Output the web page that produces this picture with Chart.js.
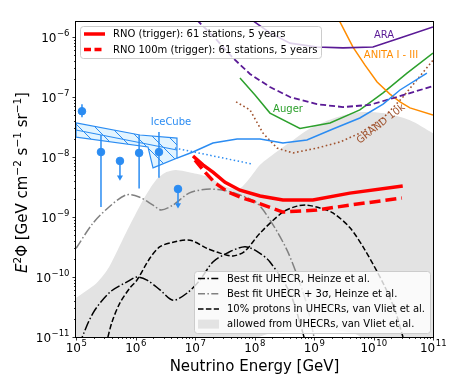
<!DOCTYPE html>
<html>
<head>
<meta charset="utf-8">
<script src="https://cdn.jsdelivr.net/npm/chart.js@4/dist/chart.umd.min.js"></script>
<style>body{margin:0;background:#fff}</style>
</head>
<body>
<canvas id="c" width="457" height="392"></canvas>
<script>
// ==== Data (energy in GeV, E^2 flux in GeV cm^-2 s^-1 sr^-1) ====
var xTicks = [1e5, 1e6, 1e7, 1e8, 1e9, 1e10, 1e11]
var xTickExp = ['5', '6', '7', '8', '9', '10', '11']
var yTicks = [1e-11, 1e-10, 1e-9, 1e-8, 1e-7, 1e-6]
var yTickExp = ['\u221211', '\u221210', '\u22129', '\u22128', '\u22127', '\u22126']

// RNO
var eRno = [9.25e6, 1.36e7, 2.0e7, 3.2e7, 5.7e7, 1.24e8, 3.0e8, 9.6e8, 4.0e9, 3.1e10]
var fRno = [1.04e-8, 7.4e-9, 5.6e-9, 3.8e-9, 2.8e-9, 2.24e-9, 1.92e-9, 1.92e-9, 2.5e-9, 3.3e-9]
var eRno100 = [1e7, 1.47e7, 2.17e7, 3.6e7, 5.7e7, 1.02e8, 3.0e8, 1.12e9, 4.0e9, 3.0e10]
var fRno100 = [8.9e-9, 5.6e-9, 3.7e-9, 2.6e-9, 2.15e-9, 1.78e-9, 1.21e-9, 1.31e-9, 1.58e-9, 2.07e-9]

// other experiments
var eAra = [6.9e7, 1.82e8, 3.95e8, 1.12e9, 3.07e9, 9.8e9, 2.79e10, 1e11]
var fAra = [2.33e-6, 1.17e-6, 7.9e-7, 6.8e-7, 6.6e-7, 6.8e-7, 9.6e-7, 1.47e-6]
var eAraProj = [1.08e7, 2.17e7, 4.36e7, 8.4e7, 1.82e8, 3.95e8, 1.12e9, 3.07e9, 8.7e9, 2.48e10, 1e11]
var fAraProj = [1.92e-6, 9.6e-7, 4.47e-7, 2.42e-7, 1.47e-7, 1e-7, 7.6e-8, 6.8e-8, 7.4e-8, 1e-7, 1.52e-7]
var eAnita = [2.53e9, 4.52e9, 7.2e9, 1.15e10, 1.89e10, 2.79e10, 4.1e10, 1e11]
var fAnita = [2.07e-6, 6.8e-7, 3.4e-7, 1.78e-7, 1.12e-7, 8.3e-8, 6.6e-8, 5.0e-8]
var eAuger = [5.7e7, 1.02e8, 1.82e8, 5.8e8, 1.86e9, 5.9e9, 1.45e10, 3.66e10, 1e11]
var fAuger = [2.07e-7, 1.08e-7, 5.4e-8, 3.0e-8, 3.7e-8, 6.1e-8, 1.17e-7, 2.5e-7, 5.4e-7]
var eGrand = [4.9e7, 8.4e7, 1.39e8, 2.39e8, 4.44e8, 1.12e9, 2.74e9, 5.9e9, 1.45e10, 3.13e10, 1e11]
var fGrand = [8.3e-8, 6.1e-8, 2.5e-8, 1.41e-8, 1.17e-8, 1.41e-8, 1.78e-8, 2.5e-8, 4.47e-8, 1e-7, 4.1e-7]

// IceCube
var eIce = [4.98e6, 9.25e6, 2.0e7, 5.1e7, 1.24e8, 3.0e8, 7.6e8, 2.08e9, 5.9e9, 1.45e10, 2.79e10, 7.9e10]
var fIce = [9.6e-9, 1.21e-8, 1.71e-8, 2.0e-8, 2.0e-8, 1.71e-8, 1.92e-8, 2.93e-8, 4.47e-8, 7.6e-8, 1.31e-7, 2.5e-7]
var eIceExt = [4.6e6, 9.4e7]
var fIceExt = [1.41e-8, 7.6e-9]
var eIceBand = [1e5, 1.19e6, 4.98e6, 4.98e6, 1.97e6, 1.62e6, 1e5, 1e5]
var fIceBand = [3.7e-8, 2.33e-8, 2.07e-8, 9.6e-9, 6.6e-9, 1.47e-8, 2.15e-8, 3.7e-8]
var eIceMid = [1e5, 4.98e6]
var fIceMid = [2.82e-8, 1.31e-8]
var eIcePts = [1.26e5, 2.63e5, 1.15e6, 2.48e6]
var fIcePts = [5.8e-8, 1.21e-8, 1.17e-8, 1.21e-8]
var fIceLo = [4.6e-8, 1.47e-9, 3.0e-9, 4.5e-9]
var fIceHi = [7.6e-8, 2.33e-8, 2.33e-8, 2.6e-8]
var eIceUL = [5.48e5, 5.18e6]
var fIceUL = [8.6e-9, 2.93e-9]
var fIceULtip = [4.6e-9, 1.58e-9]

// UHECR models
var eBest = [1.12e5, 1.93e5, 3.72e5, 7.2e5, 1.06e6, 1.56e6, 2.58e6, 4.27e6, 7.35e6, 1.21e7, 2.0e7, 3.45e7, 6.9e7, 1.15e8, 1.82e8, 3.95e8, 6.5e8, 7.3e8]
var fBest = [7.4e-12, 2.5e-11, 5.6e-11, 8.3e-11, 1.0e-10, 8.9e-11, 6.1e-11, 4.1e-11, 5.4e-11, 8.9e-11, 1.78e-10, 2.5e-10, 3.2e-10, 2.6e-10, 1.78e-10, 5.4e-11, 1.17e-11, 7.4e-12]
var eBest3 = [1e5, 1.93e5, 3.59e5, 6.92e5, 1.15e6, 1.97e6, 2.69e6, 4.27e6, 7.92e6, 1.53e7, 2.96e7, 5.7e7, 1.1e8, 2.05e8, 3.52e8, 5.18e8, 7.62e8, 1e9, 1.08e9]
var fBest3 = [3.0e-10, 7.9e-10, 1.47e-9, 2.33e-9, 2.15e-9, 1.58e-9, 1.31e-9, 1.58e-9, 2.5e-9, 2.9e-9, 2.8e-9, 2.33e-9, 1.71e-9, 7.4e-10, 2.8e-10, 1.08e-10, 3.4e-11, 1e-11, 7.4e-12]
var eProt = [3.19e5, 4.03e5, 5.48e5, 8.09e5, 1.06e6, 1.75e6, 2.58e6, 4.27e6, 8.24e6, 1.59e7, 2.63e7, 4.36e7, 6.9e7, 1.24e8, 3.01e8, 5.18e8, 7.62e8, 1.26e9, 2.08e9, 4.03e9, 7.2e9, 1.45e10, 2.3e10, 3.13e10, 3.5e10]
var fProt = [7.4e-12, 1.78e-11, 3.7e-11, 6.6e-11, 8.9e-11, 2.07e-10, 3.2e-10, 3.8e-10, 4.1e-10, 3.0e-10, 2.5e-10, 2.24e-10, 2.7e-10, 5.4e-10, 1.21e-9, 1.52e-9, 1.58e-9, 1.41e-9, 1.17e-9, 6.6e-10, 2.8e-10, 7.9e-11, 2.8e-11, 1e-11, 7.4e-12]
var eAllowedTop = [7e4, 1e5, 2.2e5, 3.6e5, 6.9e5, 1.34e6, 2.2e6, 3.3e6, 4.8e6, 9.2e6, 1.7e7, 3.6e7, 5.7e7, 8.4e7, 1.24e8, 1.8e8, 4e8, 8.6e8, 2.4e9, 5.9e9, 1.45e10, 4.1e10, 1e11, 1.5e11]
var fAllowedTop = [3.5e-11, 4.5e-11, 7.9e-11, 1.47e-10, 5.4e-10, 1.92e-9, 4.1e-9, 5.6e-9, 6.1e-9, 5.4e-9, 4.6e-9, 3.1e-9, 3.0e-9, 4.5e-9, 7.4e-9, 1e-8, 1.78e-8, 3.0e-8, 4.6e-8, 5.6e-8, 5.4e-8, 4.1e-8, 2.5e-8, 2.1e-8]
var eAllowedLow = [1.5e11, 1.6e10, 6e9, 2.4e9, 8.6e8, 4e8, 1.8e8, 1.2e8, 7e4]
var fAllowedLow = [1e-12, 1e-12, 1e-11, 1.3e-11, 1.36e-11, 1.3e-11, 1.15e-11, 1e-11, 1e-12]

// ==== Helpers ====
function pts(xs, ys) {
    return xs.map(function(x, i) { return {x: x, y: ys[i]} })
}
function line(label, xs, ys, color, width, dash, extra) {
    return Object.assign({
        label: label,
        data: pts(xs, ys),
        borderColor: color,
        borderWidth: width,
        borderDash: dash || [],
        pointRadius: 0,
        fill: false,
        tension: 0
    }, extra || {})
}

var BLUE = '#2b8cf2'
var RED = '#ff0000'
var PURPLE = '#5a1a96'
var ORANGE = '#ff8c00'
var GREEN = '#2ca02c'
var BROWN = '#a0522d'

// hatch for the IceCube band
var hatch = (function() {
    var c = document.createElement('canvas')
    c.width = 16; c.height = 16
    var g = c.getContext('2d')
    g.fillStyle = '#e2f4ff'
    g.fillRect(0, 0, 16, 16)
    g.strokeStyle = BLUE
    g.lineWidth = 1
    g.beginPath()
    g.moveTo(0, 0); g.lineTo(16, 16)
    g.moveTo(-8, 8); g.lineTo(8, 24)
    g.moveTo(8, -8); g.lineTo(24, 8)
    g.stroke()
    return g.createPattern(c, 'repeat')
})()

var datasets = []
// red curves on top
datasets.push(line('RNO (trigger): 61 stations, 5 years', eRno, fRno, RED, 3.5))
datasets.push(line('RNO 100m (trigger): 61 stations, 5 years', eRno100, fRno100, RED, 3.5, [11, 5]))
// IceCube
for (var i = 0; i < eIcePts.length; i++) {
    datasets.push(line('', [eIcePts[i], eIcePts[i]], [fIceLo[i], fIceHi[i]], BLUE, 1.5))
}
for (var j = 0; j < eIceUL.length; j++) {
    datasets.push(line('', [eIceUL[j], eIceUL[j]], [fIceUL[j], fIceULtip[j]], BLUE, 1.5, [], {
        pointRadius: [0, 3.5], pointStyle: 'triangle', rotation: 180,
        pointBackgroundColor: BLUE, pointBorderColor: BLUE, pointBorderWidth: 0
    }))
}
datasets.push({
    label: '', data: pts(eIcePts.concat(eIceUL), fIcePts.concat(fIceUL)), showLine: false,
    pointRadius: 3.8, pointBackgroundColor: BLUE, pointBorderColor: BLUE, borderColor: BLUE
})
datasets.push(line('', eIce, fIce, BLUE, 1.5))
datasets.push(line('', eIceExt, fIceExt, BLUE, 1.5, [1.5, 2.5]))
datasets.push(line('', eIceMid, fIceMid, BLUE, 1.2))
datasets.push(line('', eIceBand, fIceBand, BLUE, 1.2, [], {fill: 'shape', backgroundColor: hatch}))
// other experiments
datasets.push(line('', eAra, fAra, PURPLE, 1.6))
datasets.push(line('', eAraProj, fAraProj, PURPLE, 1.8, [6, 3]))
datasets.push(line('', eAnita, fAnita, ORANGE, 1.5))
datasets.push(line('', eAuger, fAuger, GREEN, 1.5))
datasets.push(line('', eGrand, fGrand, BROWN, 1.6, [1.6, 2.6]))
// UHECR models
datasets.push(line('Best fit UHECR, Heinze et al.', eBest, fBest, '#000', 1.5, [9.6, 2.4, 1.5, 2.4], {tension: 0.3}))
datasets.push(line('Best fit UHECR + 3\u03c3, Heinze et al.', eBest3, fBest3, '#808080', 1.5, [9.6, 2.4, 1.5, 2.4], {tension: 0.3}))
datasets.push(line('10% protons in UHECRs, van Vliet et al.', eProt, fProt, '#000', 1.5, [5.5, 2.4], {tension: 0.3}))
datasets.push(line('allowed from UHECRs, van Vliet et al.',
    eAllowedTop.concat(eAllowedLow), fAllowedTop.concat(fAllowedLow), '#e3e3e3', 0, [],
    {fill: 'shape', backgroundColor: '#e3e3e3', tension: 0.25}))

var legendTop = [
    {text: 'RNO (trigger): 61 stations, 5 years', color: RED, width: 3.5, dash: []},
    {text: 'RNO 100m (trigger): 61 stations, 5 years', color: RED, width: 3.5, dash: [7, 3.5]}
]
var legendBottom = [
    {text: 'Best fit UHECR, Heinze et al.', color: '#000', width: 1.5, dash: [7, 2.4, 1.5, 2.4]},
    {text: 'Best fit UHECR + 3\u03c3, Heinze et al.', color: '#808080', width: 1.5, dash: [7, 2.4, 1.5, 2.4]},
    {text: '10% protons in UHECRs, van Vliet et al.', color: '#000', width: 1.5, dash: [5.5, 2.4]},
    {text: 'allowed from UHECRs, van Vliet et al.', patch: '#e3e3e3'}
]

var FONT = '"DejaVu Sans", sans-serif'

function drawLegend(ctx, items, x0, y0, w, h, rowH, top) {
    ctx.save()
    ctx.fillStyle = 'rgba(255,255,255,0.8)'
    ctx.strokeStyle = '#cccccc'
    ctx.lineWidth = 1
    ctx.beginPath()
    ctx.roundRect(x0 + 0.5, y0 + 0.5, w, h, 3)
    ctx.fill(); ctx.stroke()
    ctx.font = '10px ' + FONT
    ctx.textAlign = 'left'
    ctx.textBaseline = 'middle'
    items.forEach(function(it, k) {
        var y = y0 + top + k * rowH
        if (it.patch) {
            ctx.fillStyle = it.patch
            ctx.fillRect(x0 + 4, y - 4.5, 21, 9)
        } else {
            ctx.strokeStyle = it.color
            ctx.lineWidth = it.width
            ctx.setLineDash(it.dash)
            ctx.beginPath()
            ctx.moveTo(x0 + 4, y); ctx.lineTo(x0 + 25, y)
            ctx.stroke()
            ctx.setLineDash([])
        }
        ctx.fillStyle = '#000'
        ctx.fillText(it.text, x0 + 33, y + 0.5)
    })
    ctx.restore()
}

function powLabel(ctx, exp, x, y, align) {
    ctx.font = '12px ' + FONT
    var w1 = ctx.measureText('10').width
    ctx.font = '8.5px ' + FONT
    var w2 = ctx.measureText(exp).width
    var left = align === 'right' ? x - w1 - w2 : x - (w1 + w2) / 2
    ctx.textBaseline = 'alphabetic'
    ctx.textAlign = 'left'
    ctx.font = '12px ' + FONT
    ctx.fillText('10', left, y + 4.5)
    ctx.font = '8.5px ' + FONT
    ctx.fillText(exp, left + w1 + 0.5, y - 1.5)
}

var deco = {
    id: 'deco',
    afterDatasetsDraw: function(chart) {
        var ctx = chart.ctx, a = chart.chartArea
        var sx = chart.scales.x, sy = chart.scales.y
        ctx.save()
        // curve labels
        ctx.textAlign = 'center'
        ctx.textBaseline = 'middle'
        ctx.font = '10px ' + FONT
        ctx.fillStyle = BLUE; ctx.fillText('IceCube', 171, 122)
        ctx.fillStyle = PURPLE; ctx.fillText('ARA', 384, 35)
        ctx.fillStyle = ORANGE; ctx.fillText('ANITA I - III', 391, 55)
        ctx.fillStyle = GREEN; ctx.fillText('Auger', 288, 109)
        ctx.save()
        ctx.translate(381, 124)
        ctx.rotate(-38 * Math.PI / 180)
        ctx.fillStyle = BROWN; ctx.fillText('GRAND 10k', 0, 0)
        ctx.restore()
        // legends
        drawLegend(ctx, legendTop, 80, 26, 241, 32, 15.5, 8)
        drawLegend(ctx, legendBottom, 194, 271, 236, 62, 15.2, 7.5)
        // frame
        ctx.strokeStyle = '#000'
        ctx.lineWidth = 1
        ctx.strokeRect(a.left - 0.5, a.top - 0.5, a.right - a.left + 1, a.bottom - a.top + 1)
        // ticks
        ctx.lineWidth = 0.8
        ctx.beginPath()
        xTicks.forEach(function(t) {
            for (var m = 1; m < 10; m++) {
                var v = t * m
                if (v > 1e11 * 1.0001) break
                var px = Math.round(sx.getPixelForValue(v)) + 0.5
                ctx.moveTo(px, a.bottom); ctx.lineTo(px, a.bottom + (m === 1 ? 3.5 : 2))
            }
        })
        yTicks.forEach(function(t) {
            for (var m = 1; m < 10; m++) {
                var v = t * m
                if (v > sy.max) break
                var py = Math.round(sy.getPixelForValue(v)) + 0.5
                ctx.moveTo(a.left, py); ctx.lineTo(a.left - (m === 1 ? 3.5 : 2), py)
            }
        })
        ctx.stroke()
        // tick labels
        ctx.fillStyle = '#000'
        xTicks.forEach(function(t, k) {
            powLabel(ctx, xTickExp[k], sx.getPixelForValue(t), 347, 'center')
        })
        yTicks.forEach(function(t, k) {
            powLabel(ctx, yTickExp[k], 69, sy.getPixelForValue(t), 'right')
        })
        // axis titles
        ctx.font = '15px ' + FONT
        ctx.textAlign = 'center'
        ctx.textBaseline = 'alphabetic'
        ctx.fillText('Neutrino Energy [GeV]', (a.left + a.right) / 2, 371)
        var parts = [
            {t: 'E', f: 'italic 15px ' + FONT, dy: 0},
            {t: '2', f: '10.5px ' + FONT, dy: -6},
            {t: '\u03a6 [GeV cm', f: '15px ' + FONT, dy: 0},
            {t: '\u22122', f: '10.5px ' + FONT, dy: -6},
            {t: ' s', f: '15px ' + FONT, dy: 0},
            {t: '\u22121', f: '10.5px ' + FONT, dy: -6},
            {t: ' sr', f: '15px ' + FONT, dy: 0},
            {t: '\u22121', f: '10.5px ' + FONT, dy: -6},
            {t: ']', f: '15px ' + FONT, dy: 0}
        ]
        var total = 0
        parts.forEach(function(p) { ctx.font = p.f; p.w = ctx.measureText(p.t).width; total += p.w })
        ctx.translate(27, (a.top + a.bottom) / 2 + 3)
        ctx.rotate(-Math.PI / 2)
        ctx.textAlign = 'left'
        var cx = -total / 2
        parts.forEach(function(p) { ctx.font = p.f; ctx.fillText(p.t, cx, p.dy); cx += p.w })
        ctx.restore()
    }
}

new Chart(document.getElementById('c'), {
    type: 'line',
    data: {datasets: datasets},
    options: {
        responsive: false,
        animation: false,
        devicePixelRatio: 1,
        events: [],
        layout: {padding: {left: 0, right: 24, top: 22, bottom: 0}},
        plugins: {legend: {display: false}, tooltip: {enabled: false}},
        scales: {
            x: {
                type: 'logarithmic', min: 1e5, max: 1e11,
                ticks: {display: false}, grid: {display: false}, border: {display: false},
                afterFit: function(s) { s.height = 55 }
            },
            y: {
                type: 'logarithmic', min: 1e-11, max: 1.78e-6,
                ticks: {display: false}, grid: {display: false}, border: {display: false},
                afterFit: function(s) { s.width = 76 }
            }
        }
    },
    plugins: [deco]
})
</script>
</body>
</html>
